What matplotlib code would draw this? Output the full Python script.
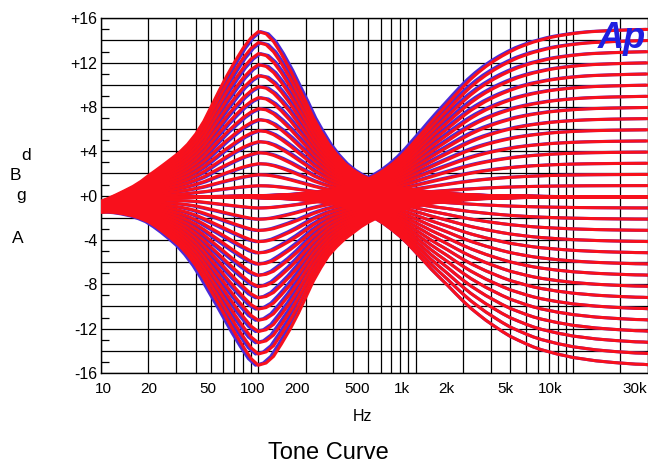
import numpy as np
import matplotlib
matplotlib.use('Agg')
import matplotlib.pyplot as plt

plt.rcParams['font.family'] = ['Liberation Sans', 'DejaVu Sans']

# frequency points (Hz) the curves were read at, about 1/6 octave apart
freqs = [10, 11.2, 12.5, 14, 16, 18, 20, 22.4, 25, 28, 31.5, 35.5, 40, 45, 50, 56, 63, 71, 80, 90,
         100, 112, 125, 140, 160, 180, 200, 224, 250, 280, 315, 355, 400, 450, 500, 560, 630, 710, 800, 900,
         1000, 1120, 1250, 1400, 1600, 1800, 2000, 2240, 2500, 2800, 3150, 3550, 4000, 4500, 5000, 5600,
         6300, 7100, 8000, 9000,
         10000, 11200, 12500, 14000, 16000, 18000, 20000, 22400, 25000, 28000, 30000]

# flat (0 dB setting) response
base_db = [-1.0, -0.85, -0.72, -0.6, -0.48, -0.38, -0.3, -0.25, -0.2, -0.17, -0.15, -0.12, -0.1, -0.1,
           -0.1, -0.1, -0.1, -0.1, -0.1, -0.1] + [-0.1] * 51

# bass control at full boost / full cut (relative to flat)
bass_boost = [0.5, 0.62, 0.8, 1.02, 1.32, 1.68, 2.1, 2.55, 3.0, 3.5, 4.05, 4.75, 5.65, 6.8, 8.1, 9.5,
              10.9, 12.2, 13.4, 14.35,
              14.9, 14.7, 14.0, 12.9, 11.4, 9.9, 8.6, 7.1, 5.9, 4.75, 3.8, 3.0, 2.4, 1.95, 1.65, 1.4,
              1.15, 0.95, 0.8, 0.68,
              0.58, 0.5, 0.43, 0.36, 0.3, 0.25, 0.21, 0.18, 0.15, 0.12, 0.1, 0.08, 0.07, 0.06, 0.05, 0.04,
              0.03, 0.025, 0.02, 0.015,
              0.01, 0, 0, 0, 0, 0, 0, 0, 0, 0, 0]
bass_cut = [-0.5, -0.63, -0.82, -1.05, -1.35, -1.7, -2.05, -2.55, -3.1, -3.7, -4.35, -5.2, -6.2, -7.35,
            -8.5, -9.7, -11.0, -12.3, -13.5, -14.6,
            -15.2, -15.0, -14.4, -13.3, -11.9, -10.5, -9.1, -7.6, -6.4, -5.3, -4.5, -3.8, -3.25, -2.7,
            -2.3, -1.95, -1.6, -1.35, -1.15, -0.98,
            -0.85, -0.72, -0.6, -0.5, -0.42, -0.35, -0.3, -0.25, -0.2, -0.17, -0.15, -0.12, -0.1, -0.08,
            -0.07, -0.06, -0.05, -0.04, -0.03, -0.025,
            -0.02, 0, 0, 0, 0, 0, 0, 0, 0, 0, 0]

# treble control at full boost / full cut
treble_boost = [0, 0, 0, 0, 0, 0, 0, 0, 0, 0, 0, 0, 0.01, 0.015, 0.02, 0.025, 0.03, 0.04, 0.05, 0.07,
                0.09, 0.11, 0.13, 0.16, 0.2, 0.25, 0.31, 0.38, 0.47, 0.58, 0.72, 0.88, 1.08, 1.32, 1.6,
                1.95, 2.4, 2.95, 3.6, 4.35,
                5.1, 5.9, 6.7, 7.5, 8.4, 9.2, 9.9, 10.6, 11.2, 11.75, 12.25, 12.7, 13.1, 13.45, 13.7,
                13.95, 14.15, 14.35, 14.5, 14.62,
                14.72, 14.8, 14.87, 14.92, 14.96, 15.0, 15.02, 15.05, 15.07, 15.09, 15.1]
treble_cut = [0, 0, 0, 0, 0, 0, 0, 0, 0, 0, 0, 0, -0.01, -0.015, -0.02, -0.025, -0.03, -0.04, -0.05, -0.07,
              -0.09, -0.11, -0.13, -0.16, -0.2, -0.25, -0.31, -0.38, -0.47, -0.58, -0.72, -0.88, -1.1,
              -1.35, -1.65, -2.0, -2.45, -3.0, -3.6, -4.3,
              -5.0, -5.75, -6.5, -7.2, -8.0, -8.75, -9.4, -10.05, -10.6, -11.15, -11.65, -12.15, -12.6,
              -12.95, -13.25, -13.55, -13.8, -14.0, -14.2, -14.35,
              -14.5, -14.6, -14.7, -14.8, -14.88, -14.95, -15.0, -15.05, -15.1, -15.12, -15.15]

# control settings, dB
steps = list(range(-15, 16))
full_scale = 15.0

# second channel (blue) sits slightly off in frequency
blue_shift = {'bass_boost': 1.035, 'bass_cut': 0.96, 'treble_boost': 0.955, 'treble_cut': 1.0}

xtick_vals = [10, 20, 50, 100, 200, 500, 1000, 2000, 5000, 10000, 30000]
xtick_labels = ['10', '20', '50', '100', '200', '500', '1k', '2k', '5k', '10k', '30k']

f = np.array(freqs, dtype=float)
base = np.array(base_db)
for arr in (base_db, bass_boost, bass_cut, treble_boost, treble_cut):
    assert len(arr) == len(freqs), len(arr)


def curves(boost, cut):
    out = []
    for g in steps:
        if g >= 0:
            out.append((g, base + g / full_scale * np.array(boost)))
        else:
            out.append((g, base + (-g) / full_scale * np.array(cut)))
    return out


fig = plt.figure(figsize=(6.48, 4.69), dpi=100)
ax = fig.add_axes([101 / 648, 1 - 373 / 469, 547 / 648, (373 - 18.3) / 469])
ax.set_xscale('log')
ax.set_xlim(10, 30000)
ax.set_ylim(-16, 16)

red = '#f8101c'
blue = '#4a2ad8'
lw = 2.2

bass = curves(bass_boost, bass_cut)
treble = curves(treble_boost, treble_cut)

# blue channel underneath
for g, y in bass:
    s = blue_shift['bass_boost'] if g >= 0 else blue_shift['bass_cut']
    ax.plot(f * s, y, color=blue, lw=lw, zorder=2)
for g, y in treble:
    s = blue_shift['treble_boost'] if g >= 0 else blue_shift['treble_cut']
    ax.plot(f * s, y, color=blue, lw=lw, zorder=2)
# red channel on top
for g, y in bass + treble:
    ax.plot(f, y, color=red, lw=lw, zorder=3)

# grid
grid_x = [m * 10 ** e for e in range(1, 5) for m in range(1, 10) if m * 10 ** e <= 30000]
ax.set_xticks(grid_x)
ax.set_xticks([], minor=True)
ax.tick_params(axis='x', which='both', length=0, labelbottom=False)

yt = np.arange(-16, 17, 2)
ax.set_yticks(yt)
ax.set_yticklabels([('+%d' % v if v >= 0 else '%d' % v) if v % 4 == 0 else '' for v in yt])
ax.set_yticks(np.arange(-15, 16, 2), minor=True)
ax.tick_params(axis='y', which='major', length=0, pad=2.5, labelsize=11.5)
ax.tick_params(axis='y', which='minor', direction='in', length=5.5, width=0.9)
ax.grid(True, which='major', color='black', lw=0.9)
ax.set_axisbelow(True)
for sp in ax.spines.values():
    sp.set_color('black')
    sp.set_linewidth(1.0)

# x labels sit on a slightly compressed scale, as in the original
for v, lab in zip(xtick_vals, xtick_labels):
    if v == xtick_vals[-1]:
        ax.text(0.999, -0.045, lab, transform=ax.transAxes, ha='right', va='center', fontsize=11)
    else:
        frac = (2.6 + 149 * (np.log10(v) - 1)) / 547
        ax.text(frac, -0.045, lab, transform=ax.transAxes, ha='center', va='center', fontsize=11)

fig.text(362 / 648, 1 - 416 / 469, 'Hz', ha='center', va='center', fontsize=11.5)
fig.text(328 / 648, 1 - 453 / 469, 'Tone Curve', ha='center', va='center', fontsize=17)

# stacked y label letters
for ch, x, y in [('d', 26, 160), ('B', 15, 180), ('g', 21, 200), ('A', 18, 243)]:
    fig.text(x / 648, 1 - y / 469, ch, ha='center', va='baseline', fontsize=12.5)

fig.text(622 / 648, 1 - 39 / 469, 'Ap', ha='center', va='center', fontsize=26,
         weight='bold', style='italic', color='#1f1fe0', zorder=5)

fig.savefig('out.png', dpi=100)
